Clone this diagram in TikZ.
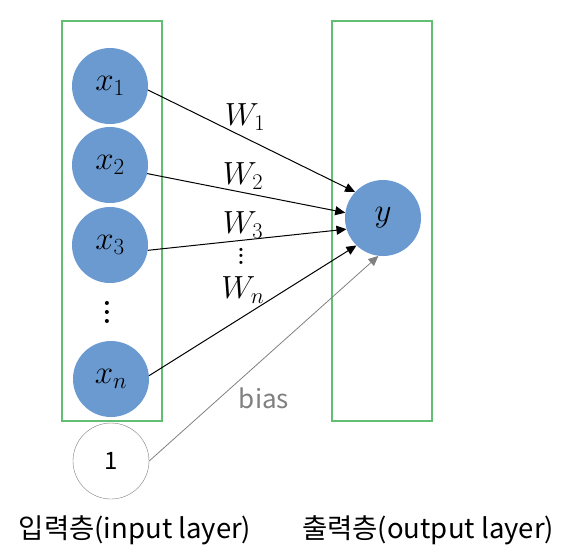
\RequirePackage{fix-cm}
\documentclass[tikz,border=0pt]{standalone}
\usepackage{fontspec}
\newfontfamily\krfont{Noto Sans CJK KR}
\usetikzlibrary{arrows.meta}
\definecolor{unitblue}{HTML}{6A9AD0}
\definecolor{layergreen}{HTML}{62BE72}
% three stacked dots with a given gap
\newcommand{\dotcol}[1]{\vbox{\baselineskip=#1\lineskiplimit=0pt\hbox{.}\hbox{.}\hbox{.}}}

\begin{document}
\begin{tikzpicture}[x=1pt, y=-1pt,
  unit/.style={circle, fill=unitblue, minimum size=76pt, inner sep=0pt, font=\fontsize{33}{36}\selectfont},
  layer/.style={draw=layergreen, line width=1.5pt},
  weight/.style={-{Triangle[length=10pt, width=9pt]}, line width=1pt},
  wlabel/.style={font=\fontsize{32}{36}\selectfont, inner sep=0pt},
  caption/.style={font=\krfont\fontsize{27.5}{30}\selectfont, inner sep=0pt}]
\useasboundingbox (0,0) rectangle (572,558);
% layers
\draw[layer] (62,21) rectangle (162,421);
\draw[layer] (332,21) rectangle (432,421);
% input units
\node[unit] (x1) at (110,86) {$x_1$};
\node[unit] (x2) at (110,165) {$x_2$};
\node[unit] (x3) at (110,245) {$x_3$};
\node[wlabel, font=\bfseries\fontsize{28}{30}\selectfont] (xdots) at (107,312) {\dotcol{9pt}};
\node[unit] (xn) at (111,379) {$x_n$};
% bias unit
\node[circle, draw=gray, minimum size=76pt, inner sep=0pt, font=\krfont\fontsize{24}{28}\selectfont] (one) at (111,461) {1};
% output unit
\node[unit] (y) at (383,218) {$y$};
% weights
\draw[weight] (x1.-6) -- (y.137);
\draw[weight] (x2.-13) -- (y.172);
\draw[weight] (x3.-8) -- (y.197);
\draw[weight] (xn.5) -- (y.226);
\draw[weight, draw=gray, line width=0.8pt] (one.0) -- (y.263);
\node[wlabel] (w1) at (245,117) {$W_1$};
\node[wlabel] (w2) at (243,176) {$W_2$};
\node[wlabel] (w3) at (243,225) {$W_3$};
\node[wlabel, font=\bfseries\fontsize{22}{24}\selectfont] (wdots) at (241,256) {\dotcol{6.5pt}};
\node[wlabel] (wn) at (243,290) {$W_n$};
\node[caption, text=gray, font=\krfont\fontsize{26}{30}\selectfont] (bias) at (264,398) {bias};
% layer names
\node[caption] (inname) at (135,530) {입력층(input layer)};
\node[caption] (outname) at (428,530) {출력층(output layer)};
\end{tikzpicture}
\end{document}
